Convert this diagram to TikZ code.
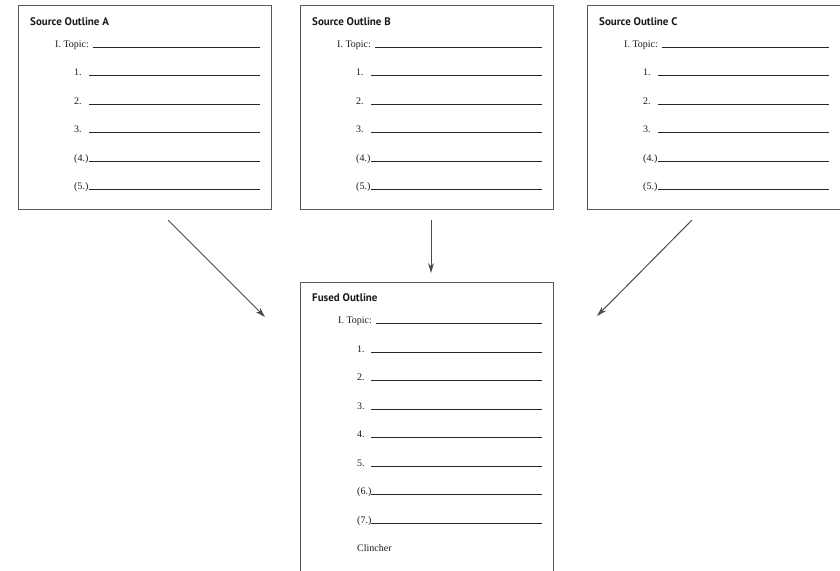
\documentclass[tikz,border=0pt]{standalone}
\usepackage{fontspec}
\setmainfont{Liberation Serif}
\newfontfamily\headfont{PT Sans}
\usetikzlibrary{arrows.meta,positioning}

\begin{document}
\begin{tikzpicture}[x=1pt,y=-1pt,>={Stealth[length=10pt,width=6pt]},
    sheet/.style={draw=black!65,line width=1.2pt,anchor=north west,minimum width=253pt,inner sep=0pt},
    head/.style={anchor=base west,inner sep=0pt,font=\headfont\bfseries\fontsize{11}{13}\selectfont,text=black!90},
    entry/.style={anchor=base west,inner sep=0pt,font=\fontsize{10}{12}\selectfont,text=black!90},
    blank/.style={draw=black!85,line width=1pt},
    feed/.style={->,draw=black!70,line width=1pt}]

  \useasboundingbox (0,0) rectangle (840,570);

  % the three source outlines
  \foreach \name/\px in {A/18,B/300,C/587}{
    \node[sheet,minimum height=204pt] (src\name) at (\px,5) {};
    \node[head] (title\name) at (\px+12,25) {Source Outline \name};
    \node[entry] (topic\name) at (\px+37,47) {I. Topic:};
    \draw[blank] (\px+75,47) -- (\px+242,47);
    \foreach \lab [count=\k] in {{1.},{2.},{3.},{(4.)},{(5.)}}{
      \pgfmathsetmacro\ly{75.5+28.5*(\k-1)}
      \node[entry] (item\name\k) at (\px+56,\ly) {\lab};
      \draw[blank] (\px+71,\ly) -- (\px+242,\ly);
    }
  }

  % fused outline
  \node[sheet,minimum height=300pt] (fused) at (300,282) {};
  \node[head] (titleF) at (312,301) {Fused Outline};
  \node[entry] (topicF) at (338,323.5) {I. Topic:};
  \draw[blank] (376,323.5) -- (542,323.5);
  \foreach \lab [count=\k] in {{1.},{2.},{3.},{4.},{5.},{(6.)},{(7.)}}{
    \pgfmathsetmacro\ly{352+28.5*(\k-1)}
    \node[entry] (itemF\k) at (357,\ly) {\lab};
    \draw[blank] (371,\ly) -- (542,\ly);
  }
  \node[entry] (clincher) at (357,551) {Clincher};

  % arrows into the fused outline
  \coordinate (fromA) at (168,220);
  \coordinate (toA) at (265,317);
  \coordinate (fromB) at (431,220);
  \coordinate (toB) at (431,273);
  \coordinate (fromC) at (692,220);
  \coordinate (toC) at (597,316);
  \draw[feed] (fromA) -- (toA);
  \draw[feed] (fromB) -- (toB);
  \draw[feed] (fromC) -- (toC);
\end{tikzpicture}
\end{document}
